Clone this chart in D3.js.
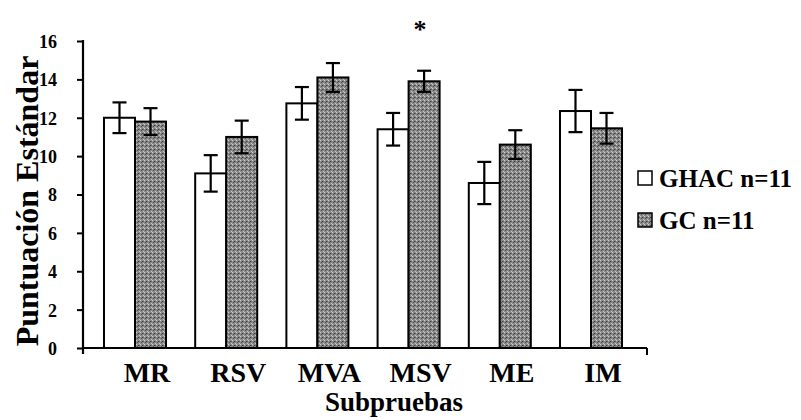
<!DOCTYPE html>
<html>
<head>
<meta charset="utf-8">
<script src="https://cdn.jsdelivr.net/npm/d3@7"></script>
<style>
    body { margin: 0; background: #fff; }
</style>
</head>
<body>
<div id="chart"></div>
<script>
//data
var categories = ["MR", "RSV", "MVA", "MSV", "ME", "IM"];
var seriesNames = ["GHAC n=11", "GC n=11"];
var ghacMean = [12.0, 9.1, 12.75, 11.4, 8.6, 12.35];
var ghacErr = [0.8, 0.95, 0.85, 0.85, 1.1, 1.1];
var gcMean = [11.8, 11.0, 14.1, 13.9, 10.6, 11.45];
var gcErr = [0.7, 0.85, 0.75, 0.55, 0.75, 0.8];
var yTicks = [0, 2, 4, 6, 8, 10, 12, 14, 16];
var significant = ["MSV"];

//setup
var width = 801, height = 420;
var plot = { left: 83, right: 647, top: 41, bottom: 348 };
const serif = "'Liberation Serif', 'Times New Roman', serif";

function bold(sel, size) {
    return sel.style("font-family", serif)
        .style("font-weight", "bold")
        .style("font-size", size + "px")
        .attr("fill", "#000");
}

const svg = d3.select("#chart").append("svg")
    .attr("width", width)
    .attr("height", height);

// grainy grey fill for the GC bars
var defs = svg.append("defs");
var pat = defs.append("pattern")
    .attr("id", "grain")
    .attr("patternUnits", "userSpaceOnUse")
    .attr("width", 4)
    .attr("height", 4);
pat.append("rect").attr("width", 4).attr("height", 4).attr("fill", "#8a8a8a");
pat.append("rect").attr("x", 0).attr("y", 0).attr("width", 1).attr("height", 1).attr("fill", "#d0d0d0");
pat.append("rect").attr("x", 2).attr("y", 1).attr("width", 1).attr("height", 1).attr("fill", "#3c3c3c");
pat.append("rect").attr("x", 1).attr("y", 2).attr("width", 1).attr("height", 1).attr("fill", "#505050");
pat.append("rect").attr("x", 3).attr("y", 3).attr("width", 1).attr("height", 1).attr("fill", "#c0c0c0");
pat.append("rect").attr("x", 3).attr("y", 1).attr("width", 1).attr("height", 1).attr("fill", "#6a6a6a");

const x = d3.scaleBand()
    .domain(categories)
    .range([89.4, 636.6])
    .paddingInner(0.32)
    .paddingOuter(0.16);

const xSub = d3.scaleBand()
    .domain([0, 1])
    .range([0, x.bandwidth()]);

const y = d3.scaleLinear()
    .domain([0, 16])
    .range([plot.bottom, plot.top]);

var rows = categories.map(function (c, i) {
    return [
        { cat: c, s: 0, v: ghacMean[i], e: ghacErr[i] },
        { cat: c, s: 1, v: gcMean[i], e: gcErr[i] }
    ];
});
var bars = rows.flat();

// bars
svg.append("g").selectAll("rect")
    .data(bars)
    .enter()
    .append("rect")
    .attr("x", d => x(d.cat) + xSub(d.s))
    .attr("y", d => y(d.v))
    .attr("width", xSub.bandwidth())
    .attr("height", d => y(0) - y(d.v))
    .attr("fill", d => d.s == 0 ? "#fff" : "url(#grain)")
    .attr("stroke", "#000")
    .attr("stroke-width", 2);

// error bars
var eb = svg.append("g")
    .attr("stroke", "#000")
    .attr("stroke-width", 2.2);
var cap = 7;
bars.forEach(function (d) {
    var cx = x(d.cat) + xSub(d.s) + xSub.bandwidth() / 2;
    eb.append("line")
        .attr("x1", cx).attr("x2", cx)
        .attr("y1", y(d.v + d.e)).attr("y2", y(d.v - d.e));
    eb.append("line")
        .attr("x1", cx - cap).attr("x2", cx + cap)
        .attr("y1", y(d.v + d.e)).attr("y2", y(d.v + d.e));
    eb.append("line")
        .attr("x1", cx - cap).attr("x2", cx + cap)
        .attr("y1", y(d.v - d.e)).attr("y2", y(d.v - d.e));
});

// y axis
const yAxis = d3.axisLeft(y)
    .tickValues(yTicks)
    .tickSize(6)
    .tickPadding(20);
var gy = svg.append("g")
    .attr("transform", "translate(" + plot.left + ",0)")
    .call(yAxis);
gy.select(".domain").remove();
gy.selectAll(".tick line").attr("stroke", "#000").attr("stroke-width", 2);
bold(gy.selectAll(".tick text"), 18)
    .attr("dy", "0.36em");
gy.append("line")
    .attr("x1", 0).attr("x2", 0)
    .attr("y1", plot.top - 1).attr("y2", plot.bottom + 6)
    .attr("stroke", "#000").attr("stroke-width", 2.2);

// x axis
var gx = svg.append("g");
gx.append("line")
    .attr("x1", plot.left).attr("x2", plot.right)
    .attr("y1", plot.bottom).attr("y2", plot.bottom)
    .attr("stroke", "#000").attr("stroke-width", 2.2);
gx.append("line")
    .attr("x1", plot.right).attr("x2", plot.right)
    .attr("y1", plot.bottom).attr("y2", plot.bottom + 7)
    .attr("stroke", "#000").attr("stroke-width", 2);
bold(gx.selectAll("text")
    .data(categories)
    .enter()
    .append("text")
    .attr("x", d => x(d) + x.bandwidth() / 2 + 12)
    .attr("y", 382)
    .attr("text-anchor", "middle")
    .text(d => d), 28);

// axis titles
bold(svg.append("text")
    .attr("x", 394)
    .attr("y", 411)
    .attr("text-anchor", "middle")
    .text("Subpruebas"), 27);

bold(svg.append("text")
    .attr("transform", "translate(38,201) rotate(-90)")
    .attr("text-anchor", "middle")
    .text("Puntuación Estándar"), 32);

// significance mark
bold(svg.selectAll(".sig")
    .data(significant)
    .enter()
    .append("text")
    .attr("class", "sig")
    .attr("x", d => x(d) + xSub(1) + xSub.bandwidth() / 2 - 4)
    .attr("y", 38)
    .attr("text-anchor", "middle")
    .text("*"), 26);

// legend
var legend = svg.append("g");
seriesNames.forEach(function (name, i) {
    var ly = 187 + i * 42;
    legend.append("rect")
        .attr("x", 638)
        .attr("y", ly - 16)
        .attr("width", 14)
        .attr("height", 14)
        .attr("fill", i == 0 ? "#fff" : "url(#grain)")
        .attr("stroke", "#000")
        .attr("stroke-width", 1.5);
    bold(legend.append("text")
        .attr("x", 659)
        .attr("y", ly)
        .text(name), 25);
});
</script>
</body>
</html>
